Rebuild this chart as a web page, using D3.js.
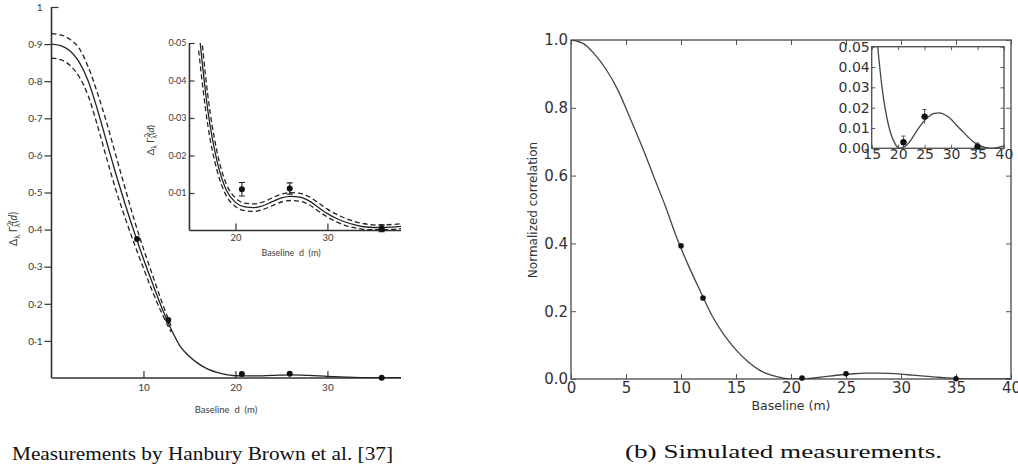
<!DOCTYPE html>
<html>
<head>
<meta charset="utf-8">
<script src="https://cdn.jsdelivr.net/npm/d3@7"></script>
<style>
body{margin:0;background:#fff;}
svg{display:block;}
.hb text{font-family:"Lato","Open Sans",sans-serif;fill:#3a3a3a;}
.sim text{font-family:"DejaVu Sans",sans-serif;fill:#333;}
.cap{font-family:"Liberation Serif","DejaVu Serif",serif;fill:#111;}
</style>
</head>
<body>
<div id="chart"></div>
<script>
// (a) Hanbury Brown et al. - main plot
let hbBaseline=[0,1,2,3,4,5,6,7,8,9,10,11,12,13,14,15,16,17,18,19,20,22,24,26,28,30,32,34,36,38];
let hbFit=[0.900,0.896,0.882,0.852,0.800,0.723,0.636,0.550,0.469,0.393,0.321,0.254,0.189,0.132,0.085,0.058,0.038,0.024,0.015,0.009,0.006,0.0055,0.007,0.0085,0.007,0.0045,0.0025,0.001,0.0006,0.001];
let hbBandBaseline=[0,1,2,3,4,5,6,7,8,9,10,11,12,13];
let hbUpper=[0.928,0.925,0.913,0.889,0.838,0.768,0.688,0.600,0.512,0.426,0.348,0.276,0.205,0.140];
let hbLower=[0.862,0.858,0.843,0.812,0.760,0.680,0.592,0.507,0.432,0.362,0.296,0.232,0.174,0.124];
let hbPointD=[9.3,12.7,20.7,25.9,35.9];
let hbPointV=[0.375,0.156,0.011,0.0112,0.0006];
let hbPointErr=[0.006,0.005,0.0018,0.0015,0.0009];
// (a) inset
let hbInsetBaseline=[16,17,18,19,20,21,22,23,24,25,26,27,28,29,30,31,32,33,34,35,36,37,38];
let hbInsetFit=[0.054,0.032,0.0185,0.0108,0.0075,0.0063,0.0061,0.0066,0.0077,0.0087,0.0091,0.0089,0.0079,0.0062,0.0045,0.0032,0.0022,0.0015,0.0010,0.0008,0.0008,0.0009,0.0011];
let hbInsetUpper=[0.060,0.036,0.021,0.0124,0.0087,0.0073,0.0071,0.0076,0.0087,0.0097,0.0101,0.0099,0.0090,0.0074,0.0057,0.0043,0.0032,0.0024,0.0018,0.0015,0.0015,0.0016,0.0018];
let hbInsetLower=[0.048,0.028,0.016,0.0093,0.0064,0.0053,0.0051,0.0056,0.0066,0.0076,0.0080,0.0078,0.0069,0.0052,0.0036,0.0023,0.0013,0.0007,0.0003,0.0002,0.0002,0.0003,0.0005];
let hbYTicks=[0.1,0.2,0.3,0.4,0.5,0.6,0.7,0.8,0.9,1];
let hbXTicks=[10,20,30];
let hbInsetYTicks=[0.01,0.02,0.03,0.04,0.05];
let hbInsetXTicks=[20,30];

// (b) simulated
let simBaseline=[0,1.1,2.1,3.2,4.3,5.3,6.4,7.5,8.6,9.6,10.7,11.8,12.8,13.9,15.0,16.1,17.1,18.2,19.3,20.3,21.4,22.5,23.5,24.6,25.7,26.8,27.8,28.9,30.0,31.0,32.1,33.2,34.2,35.3,36.4,37.5,38.5,39.6,40.7];
let simFit=[1.000,0.990,0.960,0.913,0.850,0.775,0.690,0.599,0.508,0.418,0.333,0.256,0.188,0.131,0.086,0.051,0.027,0.0111,0.0028,0.0000,0.0011,0.0044,0.0085,0.0125,0.0155,0.0172,0.0174,0.0164,0.0143,0.0115,0.0085,0.0056,0.0032,0.0014,0.0004,0.0000,0.0002,0.0009,0.0018];
let simPointD=[10,12,21,25,35];
let simPointV=[0.393,0.239,0.003,0.0156,0.0008];
let simPointErr=[0.004,0.004,0.003,0.0035,0.0018];
let simYTicks=[0,0.2,0.4,0.6,0.8,1.0];
let simXTicks=[0,5,10,15,20,25,30,35,40];
let simInsetYTicks=[0,0.01,0.02,0.03,0.04,0.05];
let simInsetXTicks=[15,20,25,30,35,40];

let W=1018, H=465;
let svg=d3.select("#chart").append("svg").attr("width",W).attr("height",H);
let defs=svg.append("defs");

let zip=function(xs,ys){ return xs.map((x,i)=>[x,ys[i]]); };

// ================= (a) =================
let hb=svg.append("g").attr("class","hb");
let x=d3.scaleLinear().domain([0,38]).range([51.5,401]);
let y=d3.scaleLinear().domain([0,1]).range([378,7]);

defs.append("clipPath").attr("id","hbclip").append("rect")
    .attr("x",51.5).attr("y",0).attr("width",350).attr("height",378);

// axes
let yAx=hb.append("g").attr("transform","translate(51.5,0)")
    .call(d3.axisLeft(y).tickValues(hbYTicks).tickSize(7).tickSizeOuter(0)
        .tickFormat(d=> d===1 ? "1" : d3.format(".1f")(d).replace(".","·")));
yAx.select(".domain").attr("d","M0,7V378").attr("stroke","#333").attr("stroke-width",1.6);
yAx.selectAll(".tick line").attr("stroke","#333").attr("stroke-width",1.2);
yAx.selectAll(".tick").filter(d=>d===1).select("line").attr("x2",7);
yAx.selectAll("text").attr("font-size",10).attr("x",-9).style("font-family",null);

let xAx=hb.append("g").attr("transform","translate(0,378)")
    .call(d3.axisBottom(x).tickValues(hbXTicks).tickSize(-7).tickSizeOuter(0));
xAx.select(".domain").attr("d","M51.5,0H401").attr("stroke","#333").attr("stroke-width",1.6);
xAx.selectAll(".tick line").attr("stroke","#333").attr("stroke-width",1.2);
xAx.selectAll("text").attr("font-size",10).attr("y",6).attr("dy","0.71em").style("font-family",null);

hb.append("text").attr("x",226).attr("y",413).attr("text-anchor","middle").attr("font-size",9.5)
    .attr("xml:space","preserve").text("Baseline  d  (m)");

let addHbYLabel=function(g,cx,cy,fs){
    let t=g.append("text").attr("transform",`translate(${cx},${cy}) rotate(-90)`)
        .attr("text-anchor","middle").attr("font-size",fs);
    t.append("tspan").text("Δ");
    t.append("tspan").attr("font-size",fs*0.7).attr("dy",3).text("λ");
    t.append("tspan").attr("dy",-3).text(" Γ");
    t.append("tspan").attr("font-size",fs*0.7).attr("dy",-4).text("2");
    t.append("tspan").attr("font-size",fs*0.7).attr("dx",-5).attr("dy",7).text("λ");
    t.append("tspan").attr("dy",-3).text("(");
    t.append("tspan").attr("font-style","italic").text("d");
    t.append("tspan").text(")");
};
addHbYLabel(hb,17,229,10.5);

let line=d3.line().x(d=>x(d[0])).y(d=>y(d[1])).curve(d3.curveMonotoneX);
let hbCurves=hb.append("g").attr("clip-path","url(#hbclip)");
hbCurves.append("path").attr("d",line(zip(hbBaseline,hbFit)))
    .attr("fill","none").attr("stroke","#222").attr("stroke-width",1.3);
[hbUpper,hbLower].forEach(s=>{
    hbCurves.append("path").attr("d",line(zip(hbBandBaseline,s)))
        .attr("fill","none").attr("stroke","#222").attr("stroke-width",1.3).attr("stroke-dasharray","5,3");
});
hb.selectAll(".hbpt").data(zip(hbPointD,hbPointV)).enter().append("circle")
    .attr("cx",d=>x(d[0])).attr("cy",d=>y(d[1])).attr("r",3).attr("fill","#111");

// inset (a)
let xi=d3.scaleLinear().domain([15,38]).range([x(15),x(38)]);
let yi=d3.scaleLinear().domain([0,0.05]).range([230.5,43]);
defs.append("clipPath").attr("id","hbinclip").append("rect")
    .attr("x",xi(15)).attr("y",43).attr("width",xi(38)-xi(15)).attr("height",230.5-43);

let yiAx=hb.append("g").attr("transform",`translate(${xi(15)},0)`)
    .call(d3.axisRight(yi).tickValues(hbInsetYTicks).tickSize(5).tickSizeOuter(0)
        .tickFormat(d=>d3.format(".2f")(d).replace(".","·")));
yiAx.select(".domain").attr("d","M0,43V230.5").attr("stroke","#333").attr("stroke-width",1.6);
yiAx.selectAll(".tick line").attr("stroke","#333").attr("stroke-width",1.2);
yiAx.selectAll("text").attr("font-size",9).attr("x",-3).attr("text-anchor","end").style("font-family",null);

let xiAx=hb.append("g").attr("transform","translate(0,230.5)")
    .call(d3.axisBottom(xi).tickValues(hbInsetXTicks).tickSize(-7).tickSizeOuter(0));
xiAx.select(".domain").attr("d",`M${xi(15)},0H${xi(38)}`).attr("stroke","#333").attr("stroke-width",1.6);
xiAx.selectAll(".tick line").attr("stroke","#333").attr("stroke-width",1.2);
xiAx.selectAll("text").attr("font-size",9.5).attr("y",4).attr("dy","0.71em").style("font-family",null);

hb.append("text").attr("x",291).attr("y",256).attr("text-anchor","middle").attr("font-size",9)
    .attr("xml:space","preserve").text("Baseline  d  (m)");
addHbYLabel(hb,154,140,9.5);

let linei=d3.line().x(d=>xi(d[0])).y(d=>yi(d[1])).curve(d3.curveMonotoneX);
let hbInCurves=hb.append("g").attr("clip-path","url(#hbinclip)");
hbInCurves.append("path").attr("d",linei(zip(hbInsetBaseline,hbInsetFit)))
    .attr("fill","none").attr("stroke","#222").attr("stroke-width",1.3);
[hbInsetUpper,hbInsetLower].forEach(s=>{
    hbInCurves.append("path").attr("d",linei(zip(hbInsetBaseline,s)))
        .attr("fill","none").attr("stroke","#222").attr("stroke-width",1.3).attr("stroke-dasharray","5,3");
});
let hbInPts=hb.selectAll(".hbipt").data(hbPointD.map((d,i)=>({d:d,v:hbPointV[i],e:hbPointErr[i]})).filter(p=>p.d>15))
    .enter().append("g");
hbInPts.append("path").attr("d",p=>`M${xi(p.d)},${yi(p.v-p.e)}V${yi(p.v+p.e)}M${xi(p.d)-3},${yi(p.v+p.e)}h6M${xi(p.d)-3},${yi(p.v-p.e)}h6`)
    .attr("stroke","#222").attr("stroke-width",1.1).attr("fill","none");
hbInPts.append("circle").attr("cx",p=>xi(p.d)).attr("cy",p=>yi(p.v)).attr("r",3).attr("fill","#111");

svg.append("text").attr("class","cap").attr("x",12).attr("y",460).attr("font-size",19)
    .attr("textLength",381).attr("lengthAdjust","spacingAndGlyphs")
    .text("Measurements by Hanbury Brown et al. [37]");

// ================= (b) =================
let sim=svg.append("g").attr("class","sim");
let sx=d3.scaleLinear().domain([0,40]).range([571,1011]);
let sy=d3.scaleLinear().domain([0,1]).range([379,40]);
defs.append("clipPath").attr("id","simclip").append("rect")
    .attr("x",571).attr("y",40).attr("width",440).attr("height",339);

let frame=function(g,xs,ys,xt,yt,tl,fs,fmtY,fmtX,labPadX,labPadY){
    let x0=xs.range()[0], x1=xs.range()[1], y0=ys.range()[0], y1=ys.range()[1];
    g.append("rect").attr("x",x0).attr("y",y1).attr("width",x1-x0).attr("height",y0-y1)
        .attr("fill","#fff").attr("stroke","#555").attr("stroke-width",1.4);
    let b=g.append("g").attr("transform",`translate(0,${y0})`)
        .call(d3.axisBottom(xs).tickValues(xt).tickSize(-tl).tickSizeOuter(0).tickFormat(fmtX));
    let t=g.append("g").attr("transform",`translate(0,${y1})`)
        .call(d3.axisTop(xs).tickValues(xt).tickSize(-tl).tickSizeOuter(0).tickFormat(""));
    let l=g.append("g").attr("transform",`translate(${x0},0)`)
        .call(d3.axisLeft(ys).tickValues(yt).tickSize(-tl).tickSizeOuter(0).tickFormat(fmtY));
    let r=g.append("g").attr("transform",`translate(${x1},0)`)
        .call(d3.axisRight(ys).tickValues(yt).tickSize(-tl).tickSizeOuter(0).tickFormat(""));
    [b,t,l,r].forEach(a=>{
        a.select(".domain").remove();
        a.selectAll(".tick line").attr("stroke","#555").attr("stroke-width",1);
        a.selectAll("text").attr("font-size",fs).style("font-family",null).attr("fill","#333");
    });
    b.selectAll("text").attr("y",labPadX);
    l.selectAll("text").attr("x",-labPadY);
};

frame(sim,sx,sy,simXTicks,simYTicks,5,15,d3.format(".1f"),d3.format("d"),3,3);

sim.append("text").attr("transform","translate(537,210) rotate(-90)").attr("text-anchor","middle")
    .attr("font-size",12).attr("fill","#333").text("Normalized correlation");
sim.append("text").attr("x",791).attr("y",410).attr("text-anchor","middle")
    .attr("font-size",12.5).attr("fill","#333").text("Baseline (m)");

let sline=d3.line().x(d=>sx(d[0])).y(d=>sy(d[1])).curve(d3.curveMonotoneX);
sim.append("g").attr("clip-path","url(#simclip)").append("path")
    .attr("d",sline(zip(simBaseline,simFit)))
    .attr("fill","none").attr("stroke","#444").attr("stroke-width",1.3);
sim.selectAll(".spt").data(zip(simPointD,simPointV)).enter().append("circle")
    .attr("cx",d=>sx(d[0])).attr("cy",d=>sy(d[1])).attr("r",2.8).attr("fill","#111");

// inset (b)
let sxi=d3.scaleLinear().domain([15,40]).range([871.7,1004]);
let syi=d3.scaleLinear().domain([0,0.05]).range([148.3,46.7]);
defs.append("clipPath").attr("id","siminclip").append("rect")
    .attr("x",871.7).attr("y",46.7).attr("width",1004-871.7).attr("height",148.3-46.7);
frame(sim,sxi,syi,simInsetXTicks,simInsetYTicks,3.5,14,d3.format(".2f"),d3.format("d"),1,2);

let slinei=d3.line().x(d=>sxi(d[0])).y(d=>syi(d[1])).curve(d3.curveMonotoneX);
sim.append("g").attr("clip-path","url(#siminclip)").append("path")
    .attr("d",slinei(zip(simBaseline,simFit)))
    .attr("fill","none").attr("stroke","#444").attr("stroke-width",1.3);
let simInPts=sim.selectAll(".sipt").data(simPointD.map((d,i)=>({d:d,v:simPointV[i],e:simPointErr[i]})).filter(p=>p.d>15))
    .enter().append("g");
simInPts.append("path").attr("d",p=>`M${sxi(p.d)},${syi(Math.max(0,p.v-p.e))}V${syi(p.v+p.e)}M${sxi(p.d)-2},${syi(p.v+p.e)}h4`)
    .attr("stroke","#555").attr("stroke-width",1).attr("fill","none");
simInPts.append("circle").attr("cx",p=>sxi(p.d)).attr("cy",p=>syi(p.v)).attr("r",3.2).attr("fill","#111");

svg.append("text").attr("class","cap").attr("x",625).attr("y",458).attr("font-size",19)
    .attr("textLength",317).attr("lengthAdjust","spacingAndGlyphs")
    .text("(b) Simulated measurements.");
</script>
</body>
</html>
